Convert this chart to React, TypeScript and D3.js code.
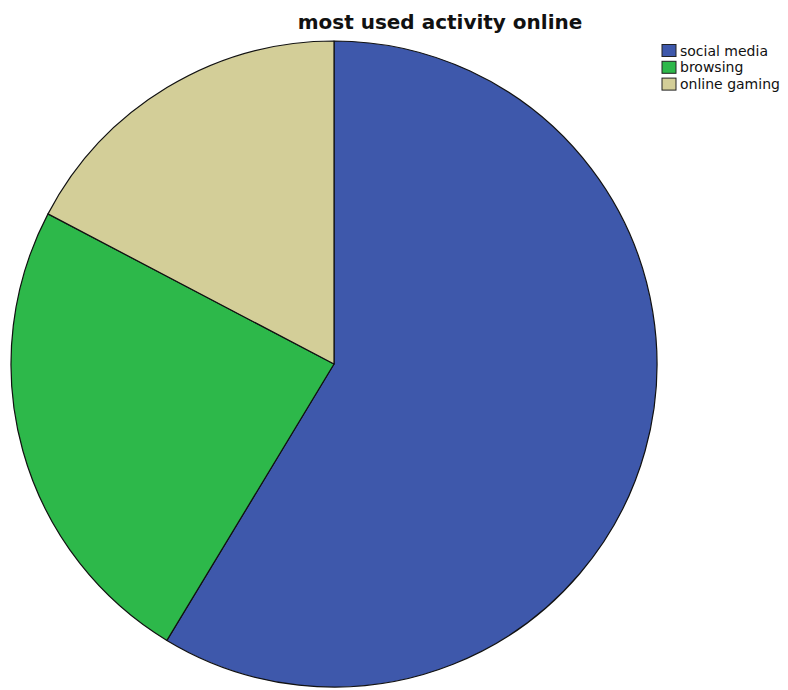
import React from "react";
import * as d3 from "d3";

const categories = ["social media", "browsing", "online gaming"];
const values = [61, 25, 18];
const colors = ["#3e58ab", "#2db84a", "#d3ce98"];
const title = "most used activity online";

export default function App() {
  const width = 788;
  const height = 690;
  const cx = 334;
  const cy = 364;
  const r = 323;
  const pie = d3.pie<number>().sort(null).value((d) => d);
  const arcs = pie(values);
  const arc = d3.arc<d3.PieArcDatum<number>>().innerRadius(0).outerRadius(r);
  return (
    <svg
      width={width}
      height={height}
      style={{ position: "absolute", left: 0, top: 0, background: "#fff" }}
    >
      <text
        x={440}
        y={29}
        textAnchor="middle"
        fontFamily="DejaVu Sans"
        fontWeight="bold"
        fontSize={20}
        fill="#111"
      >
        {title}
      </text>
      <g transform={`translate(${cx},${cy})`}>
        {arcs.map((a, i) => (
          <path
            key={i}
            d={arc(a) || ""}
            fill={colors[i]}
            stroke="#111"
            strokeWidth={1.2}
            strokeLinejoin="round"
          />
        ))}
      </g>
      <g>
        {categories.map((c, i) => (
          <g key={c} transform={`translate(662,${44.5 + i * 16.8})`}>
            <rect
              width={14}
              height={12}
              fill={colors[i]}
              stroke="#222"
              strokeWidth={1}
            />
            <text
              x={18}
              y={11}
              fontFamily="DejaVu Sans"
              fontSize={14}
              fill="#111"
            >
              {c}
            </text>
          </g>
        ))}
      </g>
    </svg>
  );
}
